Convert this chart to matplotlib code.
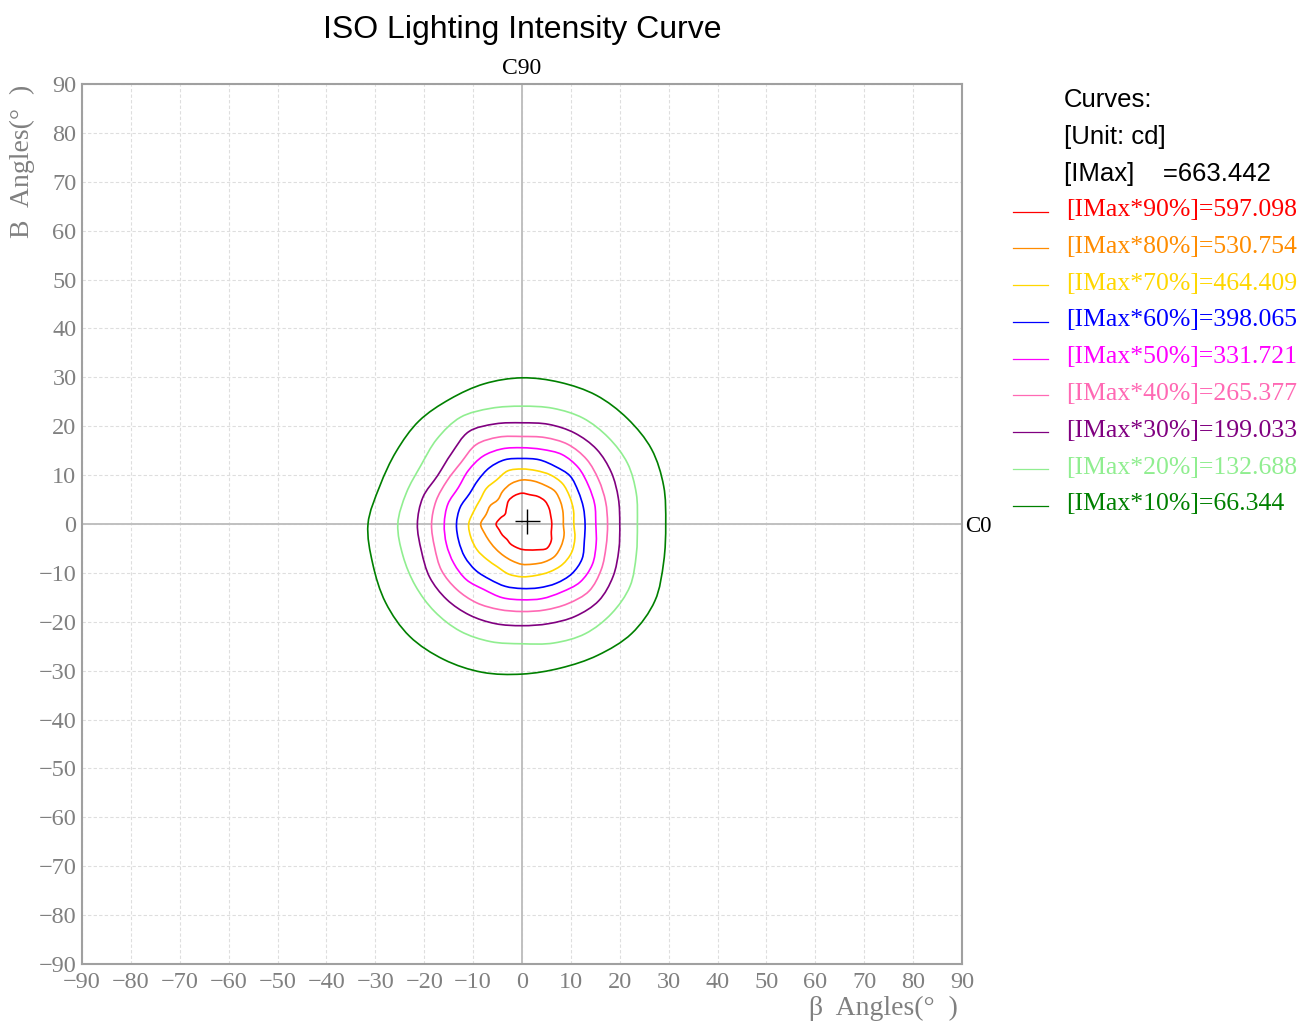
import numpy as np
import matplotlib
matplotlib.use("Agg")
import matplotlib.pyplot as plt
from matplotlib.lines import Line2D
from matplotlib.path import Path
from matplotlib.patches import PathPatch

# ---------------- data ----------------
IMAX = 663.442
percents = [90, 80, 70, 60, 50, 40, 30, 20, 10]
colors = ["#ff0000", "#ff8c00", "#ffd700", "#0000ff", "#ff00ff",
          "#ff69b4", "#800080", "#90ee90", "#008000"]

# direction angles (deg, counter-clockwise from C0 axis)
angles_deg = list(range(0, 360, 15))

# radius (deg) of each iso-intensity curve at those directions
r90 = [6.1, 6.1, 6.4, 6.65, 6.5, 6.2, 6.3, 6.0, 5.5, 4.5, 4.0, 4.6,
       5.3, 4.8, 4.6, 4.4, 4.7, 4.9, 5.2, 5.5, 6.1, 7.1, 6.9, 6.2]
r80 = [8.45, 8.7, 9.1, 9.5, 9.2, 9.1, 9.0, 8.55, 7.8, 7.0, 7.5, 7.6,
       8.45, 7.85, 7.5, 7.4, 7.5, 7.8, 8.25, 8.5, 9.0, 9.4, 9.2, 8.9]
r70 = [10.6, 10.9, 11.25, 11.7, 11.6, 11.3, 11.25, 11.25, 10.4, 10.3, 9.9, 10.2,
       10.9, 10.8, 10.6, 10.2, 10.1, 10.6, 10.8, 10.9, 11.3, 11.7, 11.7, 11.2]
r60 = [12.9, 13.0, 13.3, 13.9, 13.6, 13.6, 13.4, 13.6, 13.3, 12.7, 12.4, 13.1,
       13.4, 13.4, 13.5, 13.4, 13.1, 13.2, 13.2, 13.5, 14.0, 14.4, 14.2, 13.2]
r50 = [15.1, 15.4, 15.7, 16.3, 16.4, 15.8, 15.6, 15.9, 16.0, 15.5, 15.0, 15.7,
       15.9, 16.0, 16.1, 16.1, 15.5, 15.6, 15.5, 15.8, 16.1, 16.8, 16.6, 15.7]
r40 = [17.5, 17.7, 18.1, 18.7, 18.8, 18.3, 17.9, 18.4, 18.75, 17.7, 17.7, 18.2,
       18.5, 18.5, 19.0, 18.9, 18.6, 18.1, 17.9, 18.2, 18.8, 19.4, 18.7, 17.8]
r30 = [20.0, 20.4, 21.1, 21.6, 21.5, 21.1, 20.7, 21.2, 21.8, 20.4, 19.9, 21.0,
       21.4, 21.3, 21.8, 21.8, 21.5, 21.1, 20.8, 21.1, 21.8, 22.2, 21.5, 20.5]
r20 = [23.6, 24.2, 24.9, 25.0, 25.0, 24.5, 24.1, 24.5, 25.2, 24.6, 23.9, 24.5,
       25.4, 25.2, 25.2, 25.3, 25.3, 24.9, 24.5, 25.2, 25.9, 25.9, 25.5, 24.2]
r10 = [29.4, 30.0, 30.6, 30.5, 30.4, 30.0, 29.9, 29.7, 29.5, 29.8, 29.7, 30.1,
       31.5, 31.6, 32.2, 32.5, 32.0, 31.4, 30.7, 30.5, 31.0, 31.7, 31.4, 30.0]
radii = [r90, r80, r70, r60, r50, r40, r30, r20, r10]

# location of maximum intensity
max_x, max_y = 1.0, 0.6

ticks = list(range(-90, 91, 10))

# ---------------- figure ----------------
W, H, DPI = 1303, 1021, 100
fig = plt.figure(figsize=(W / DPI, H / DPI), dpi=DPI)
ax = fig.add_axes([82 / W, 1 - 964 / H, 880 / W, 880 / H])

ax.set_xlim(-90, 90)
ax.set_ylim(-90, 90)
ax.set_xticks(ticks)
ax.set_yticks(ticks)
ax.grid(True, color="#dedede", linestyle=(0, (3, 2)), linewidth=0.8)
ax.set_axisbelow(True)
ax.axhline(0, color="#c0c0c0", linewidth=1.4, zorder=1)
ax.axvline(0, color="#c0c0c0", linewidth=1.4, zorder=1)
for sp in ax.spines.values():
    sp.set_color("#a0a0a0")
    sp.set_linewidth(1.5)

ax.tick_params(length=0, colors="#808080")
ax.tick_params(axis="x", pad=6)
ax.tick_params(axis="y", pad=4)
for lab in ax.get_xticklabels() + ax.get_yticklabels():
    lab.set_fontfamily("Liberation Serif")
    lab.set_fontsize(17.5)


def closed_smooth_path(px, py):
    """Closed Catmull-Rom curve through the given points, as cubic Bezier path."""
    P = np.column_stack([px, py])
    n = len(P)
    verts = [P[0]]
    codes = [Path.MOVETO]
    for i in range(n):
        p0, p1, p2, p3 = P[i - 1], P[i], P[(i + 1) % n], P[(i + 2) % n]
        c1 = p1 + (p2 - p0) / 6.0
        c2 = p2 - (p3 - p1) / 6.0
        verts += [c1, c2, p2]
        codes += [Path.CURVE4] * 3
    return Path(np.array(verts), codes)


th = np.deg2rad(np.array(angles_deg))
for rr, col in zip(radii, colors):
    r = np.array(rr)
    path = closed_smooth_path(r * np.cos(th), r * np.sin(th))
    ax.add_patch(PathPatch(path, fill=False, edgecolor=col, linewidth=1.2, zorder=3))

ax.plot([max_x], [max_y], marker="+", markersize=18, markeredgewidth=1.0,
        color="black", zorder=4)

# labels
fig.text(522 / W, 1 - 30 / H, "ISO Lighting Intensity Curve", ha="center", va="center",
         fontsize=23, family="Liberation Sans")
fig.text(522 / W, 1 - 68 / H, "C90", ha="center", va="center", fontsize=17,
         family="Liberation Serif")
fig.text(965 / W, 1 - 526 / H, "C0", ha="left", va="center", fontsize=16.5,
         family="Liberation Serif")
fig.text(958 / W, 1 - 1008 / H, "β  Angles(°  )", ha="right", va="center", fontsize=20,
         family="Liberation Serif", color="#808080")
fig.text(22 / W, 1 - 85 / H, "B  Angles(°  )", ha="center", va="top", rotation=90,
         fontsize=20, family="Liberation Serif", color="#808080")

# legend block
fig.text(1064 / W, 1 - 100 / H, "Curves:", ha="left", va="center", fontsize=18.5,
         family="Liberation Sans")
fig.text(1064 / W, 1 - 137 / H, "[Unit: cd]", ha="left", va="center", fontsize=18.5,
         family="Liberation Sans")
fig.text(1064 / W, 1 - 174 / H, "[IMax]    =%.3f" % IMAX, ha="left", va="center",
         fontsize=18.5, family="Liberation Sans")
y0, dy = 210.0, 36.8
for i, (p, col) in enumerate(zip(percents, colors)):
    yy = 1 - (y0 + i * dy) / H
    fig.add_artist(Line2D([1013 / W, 1048 / W], [yy - 1.5 / H, yy - 1.5 / H],
                          transform=fig.transFigure, color=col, linewidth=0.9))
    fig.text(1066 / W, yy, "[IMax*%d%%]=%.3f" % (p, IMAX * p / 100), ha="left",
             va="center", fontsize=18.5, family="Liberation Serif", color=col)

fig.savefig("out.png", dpi=DPI)
